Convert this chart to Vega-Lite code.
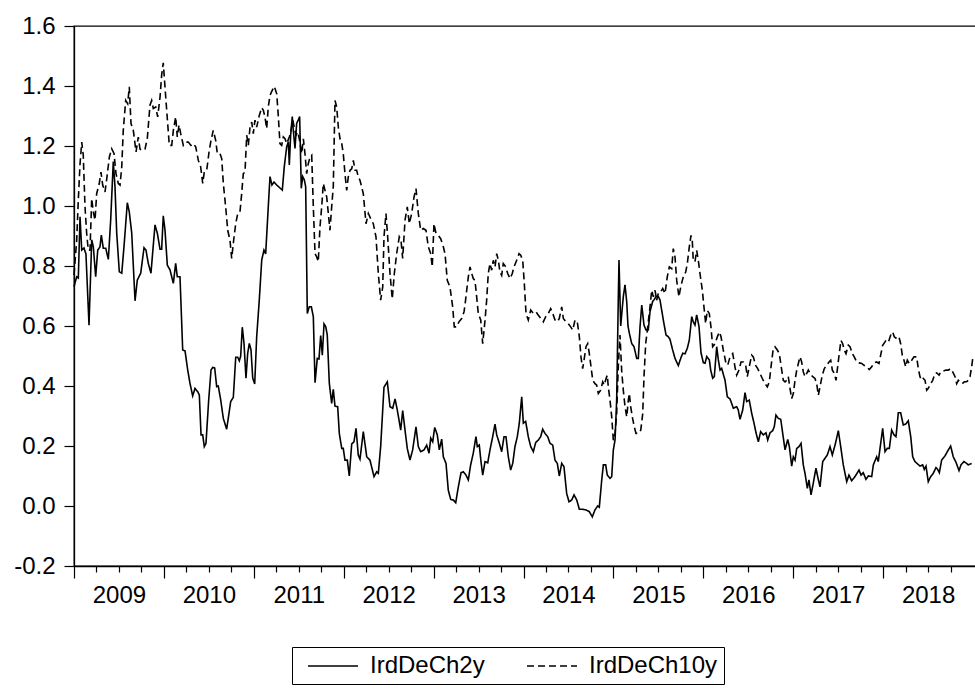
{
  "$schema": "https://vega.github.io/schema/vega-lite/v6.json",
  "width": 902,
  "height": 540,
  "autosize": {"type": "none"},
  "padding": {"left": 74, "top": 26, "right": 0, "bottom": 123},
  "background": "white",
  "config": {
    "view": {"stroke": "black", "strokeWidth": 1.3},
    "font": "Liberation Sans",
    "axis": {"grid": false, "title": null, "labelFont": "Liberation Sans", "labelFontSize": 24, "labelFontWeight": "normal", "labelColor": "black", "tickColor": "black", "domainColor": "black", "tickWidth": 1.2, "domainWidth": 1.3, "labelFlush": false, "labelOverlap": false, "labelBound": false}
  },
  "datasets": {
    "d2": [
{"t":2009.000,"v":0.731},{"t":2009.030,"v":0.764},{"t":2009.048,"v":0.760},{"t":2009.067,"v":0.964},{"t":2009.086,"v":0.853},{"t":2009.111,"v":0.860},{"t":2009.133,"v":0.840},{"t":2009.167,"v":0.603},{"t":2009.197,"v":0.887},{"t":2009.215,"v":0.864},{"t":2009.241,"v":0.764},{"t":2009.264,"v":0.853},{"t":2009.289,"v":0.864},{"t":2009.304,"v":0.903},{"t":2009.326,"v":0.859},{"t":2009.353,"v":0.859},{"t":2009.382,"v":0.822},{"t":2009.408,"v":0.953},{"t":2009.437,"v":1.148},{"t":2009.456,"v":1.064},{"t":2009.475,"v":0.910},{"t":2009.504,"v":0.781},{"t":2009.531,"v":0.776},{"t":2009.556,"v":0.864},{"t":2009.593,"v":1.011},{"t":2009.615,"v":0.980},{"t":2009.642,"v":0.910},{"t":2009.679,"v":0.684},{"t":2009.704,"v":0.753},{"t":2009.742,"v":0.776},{"t":2009.779,"v":0.861},{"t":2009.801,"v":0.853},{"t":2009.826,"v":0.809},{"t":2009.856,"v":0.776},{"t":2009.901,"v":0.937},{"t":2009.927,"v":0.909},{"t":2009.957,"v":0.856},{"t":2009.975,"v":0.856},{"t":2009.993,"v":0.967},
{"t":2010.012,"v":0.920},{"t":2010.038,"v":0.803},{"t":2010.068,"v":0.787},{"t":2010.105,"v":0.742},{"t":2010.131,"v":0.809},{"t":2010.149,"v":0.764},{"t":2010.179,"v":0.764},{"t":2010.209,"v":0.520},{"t":2010.235,"v":0.517},{"t":2010.265,"v":0.453},{"t":2010.290,"v":0.409},{"t":2010.320,"v":0.367},{"t":2010.346,"v":0.392},{"t":2010.376,"v":0.381},{"t":2010.394,"v":0.370},{"t":2010.413,"v":0.237},{"t":2010.432,"v":0.237},{"t":2010.449,"v":0.198},{"t":2010.468,"v":0.209},{"t":2010.498,"v":0.353},{"t":2010.524,"v":0.453},{"t":2010.543,"v":0.462},{"t":2010.565,"v":0.460},{"t":2010.587,"v":0.398},{"t":2010.605,"v":0.400},{"t":2010.632,"v":0.353},{"t":2010.661,"v":0.292},{"t":2010.698,"v":0.256},{"t":2010.724,"v":0.309},{"t":2010.743,"v":0.348},{"t":2010.772,"v":0.362},{"t":2010.799,"v":0.496},{"t":2010.821,"v":0.496},{"t":2010.839,"v":0.484},{"t":2010.854,"v":0.500},{"t":2010.872,"v":0.596},{"t":2010.891,"v":0.542},{"t":2010.913,"v":0.426},{"t":2010.932,"v":0.509},{"t":2010.950,"v":0.542},{"t":2010.969,"v":0.520},{"t":2010.988,"v":0.426},
{"t":2011.010,"v":0.407},{"t":2011.032,"v":0.564},{"t":2011.061,"v":0.687},{"t":2011.088,"v":0.820},{"t":2011.113,"v":0.853},{"t":2011.132,"v":0.840},{"t":2011.161,"v":0.998},{"t":2011.180,"v":1.098},{"t":2011.202,"v":1.070},{"t":2011.225,"v":1.080},{"t":2011.255,"v":1.070},{"t":2011.291,"v":1.060},{"t":2011.317,"v":1.053},{"t":2011.339,"v":1.131},{"t":2011.366,"v":1.198},{"t":2011.384,"v":1.214},{"t":2011.395,"v":1.137},{"t":2011.410,"v":1.237},{"t":2011.428,"v":1.298},{"t":2011.439,"v":1.253},{"t":2011.458,"v":1.192},{"t":2011.477,"v":1.276},{"t":2011.495,"v":1.287},{"t":2011.510,"v":1.298},{"t":2011.528,"v":1.059},{"t":2011.544,"v":1.098},{"t":2011.562,"v":1.087},{"t":2011.577,"v":1.064},{"t":2011.595,"v":0.642},{"t":2011.617,"v":0.664},{"t":2011.640,"v":0.664},{"t":2011.662,"v":0.631},{"t":2011.681,"v":0.411},{"t":2011.706,"v":0.492},{"t":2011.725,"v":0.490},{"t":2011.744,"v":0.568},{"t":2011.762,"v":0.503},{"t":2011.781,"v":0.607},{"t":2011.800,"v":0.598},{"t":2011.817,"v":0.570},{"t":2011.840,"v":0.409},{"t":2011.866,"v":0.342},{"t":2011.884,"v":0.389},{"t":2011.903,"v":0.333},{"t":2011.933,"v":0.331},{"t":2011.951,"v":0.242},{"t":2011.978,"v":0.192},{"t":2011.995,"v":0.192},
{"t":2012.014,"v":0.153},{"t":2012.040,"v":0.153},{"t":2012.062,"v":0.100},{"t":2012.089,"v":0.207},{"t":2012.114,"v":0.214},{"t":2012.137,"v":0.259},{"t":2012.162,"v":0.170},{"t":2012.181,"v":0.156},{"t":2012.218,"v":0.248},{"t":2012.256,"v":0.164},{"t":2012.292,"v":0.153},{"t":2012.337,"v":0.098},{"t":2012.367,"v":0.114},{"t":2012.385,"v":0.109},{"t":2012.411,"v":0.198},{"t":2012.448,"v":0.396},{"t":2012.485,"v":0.414},{"t":2012.515,"v":0.331},{"t":2012.545,"v":0.326},{"t":2012.571,"v":0.357},{"t":2012.596,"v":0.320},{"t":2012.634,"v":0.253},{"t":2012.656,"v":0.318},{"t":2012.682,"v":0.253},{"t":2012.707,"v":0.192},{"t":2012.737,"v":0.153},{"t":2012.767,"v":0.187},{"t":2012.804,"v":0.264},{"t":2012.830,"v":0.198},{"t":2012.856,"v":0.181},{"t":2012.893,"v":0.187},{"t":2012.923,"v":0.203},{"t":2012.949,"v":0.176},{"t":2012.968,"v":0.226},{"t":2012.990,"v":0.214},
{"t":2013.012,"v":0.262},{"t":2013.041,"v":0.237},{"t":2013.063,"v":0.187},{"t":2013.090,"v":0.223},{"t":2013.108,"v":0.164},{"t":2013.138,"v":0.142},{"t":2013.163,"v":0.053},{"t":2013.190,"v":0.022},{"t":2013.219,"v":0.020},{"t":2013.246,"v":0.011},{"t":2013.275,"v":0.064},{"t":2013.305,"v":0.111},{"t":2013.330,"v":0.114},{"t":2013.360,"v":0.103},{"t":2013.386,"v":0.087},{"t":2013.412,"v":0.137},{"t":2013.441,"v":0.176},{"t":2013.471,"v":0.231},{"t":2013.486,"v":0.198},{"t":2013.508,"v":0.203},{"t":2013.527,"v":0.148},{"t":2013.546,"v":0.103},{"t":2013.572,"v":0.148},{"t":2013.602,"v":0.144},{"t":2013.627,"v":0.187},{"t":2013.657,"v":0.231},{"t":2013.683,"v":0.273},{"t":2013.702,"v":0.237},{"t":2013.731,"v":0.209},{"t":2013.757,"v":0.181},{"t":2013.783,"v":0.231},{"t":2013.805,"v":0.231},{"t":2013.831,"v":0.164},{"t":2013.857,"v":0.120},{"t":2013.880,"v":0.142},{"t":2013.905,"v":0.198},{"t":2013.931,"v":0.231},{"t":2013.953,"v":0.276},{"t":2013.980,"v":0.364},{"t":2013.998,"v":0.276},
{"t":2014.024,"v":0.282},{"t":2014.053,"v":0.231},{"t":2014.080,"v":0.198},{"t":2014.109,"v":0.181},{"t":2014.136,"v":0.212},{"t":2014.165,"v":0.220},{"t":2014.191,"v":0.231},{"t":2014.213,"v":0.256},{"t":2014.239,"v":0.242},{"t":2014.269,"v":0.231},{"t":2014.295,"v":0.209},{"t":2014.325,"v":0.203},{"t":2014.350,"v":0.153},{"t":2014.376,"v":0.142},{"t":2014.398,"v":0.100},{"t":2014.425,"v":0.142},{"t":2014.450,"v":0.131},{"t":2014.480,"v":0.042},{"t":2014.506,"v":0.014},{"t":2014.536,"v":0.020},{"t":2014.562,"v":0.037},{"t":2014.592,"v":0.020},{"t":2014.621,"v":-0.011},{"t":2014.658,"v":-0.011},{"t":2014.695,"v":-0.013},{"t":2014.732,"v":-0.019},{"t":2014.765,"v":-0.036},{"t":2014.795,"v":-0.013},{"t":2014.825,"v":0.000},{"t":2014.843,"v":-0.004},{"t":2014.870,"v":0.087},{"t":2014.888,"v":0.137},{"t":2014.914,"v":0.137},{"t":2014.932,"v":0.103},{"t":2014.962,"v":0.092},{"t":2014.981,"v":0.098},{"t":2014.999,"v":0.187},
{"t":2015.018,"v":0.220},{"t":2015.036,"v":0.353},{"t":2015.054,"v":0.687},{"t":2015.062,"v":0.820},{"t":2015.081,"v":0.600},{"t":2015.110,"v":0.698},{"t":2015.129,"v":0.737},{"t":2015.148,"v":0.680},{"t":2015.162,"v":0.600},{"t":2015.177,"v":0.576},{"t":2015.203,"v":0.542},{"t":2015.229,"v":0.531},{"t":2015.259,"v":0.492},{"t":2015.277,"v":0.492},{"t":2015.296,"v":0.598},{"t":2015.315,"v":0.670},{"t":2015.340,"v":0.603},{"t":2015.362,"v":0.587},{"t":2015.388,"v":0.587},{"t":2015.407,"v":0.648},{"t":2015.437,"v":0.682},{"t":2015.451,"v":0.687},{"t":2015.474,"v":0.698},{"t":2015.499,"v":0.698},{"t":2015.518,"v":0.687},{"t":2015.555,"v":0.620},{"t":2015.585,"v":0.570},{"t":2015.611,"v":0.564},{"t":2015.629,"v":0.556},{"t":2015.659,"v":0.520},{"t":2015.685,"v":0.492},{"t":2015.722,"v":0.468},{"t":2015.748,"v":0.492},{"t":2015.771,"v":0.509},{"t":2015.796,"v":0.507},{"t":2015.822,"v":0.526},{"t":2015.844,"v":0.553},{"t":2015.871,"v":0.631},{"t":2015.888,"v":0.614},{"t":2015.907,"v":0.603},{"t":2015.926,"v":0.637},{"t":2015.952,"v":0.598},{"t":2015.974,"v":0.511},
{"t":2016.000,"v":0.478},{"t":2016.019,"v":0.476},{"t":2016.038,"v":0.498},{"t":2016.067,"v":0.487},{"t":2016.082,"v":0.453},{"t":2016.104,"v":0.426},{"t":2016.122,"v":0.431},{"t":2016.149,"v":0.531},{"t":2016.167,"v":0.487},{"t":2016.186,"v":0.453},{"t":2016.204,"v":0.459},{"t":2016.230,"v":0.431},{"t":2016.241,"v":0.420},{"t":2016.267,"v":0.364},{"t":2016.297,"v":0.357},{"t":2016.334,"v":0.326},{"t":2016.371,"v":0.331},{"t":2016.389,"v":0.320},{"t":2016.408,"v":0.289},{"t":2016.438,"v":0.320},{"t":2016.464,"v":0.378},{"t":2016.482,"v":0.348},{"t":2016.511,"v":0.353},{"t":2016.538,"v":0.309},{"t":2016.564,"v":0.276},{"t":2016.586,"v":0.244},{"t":2016.612,"v":0.214},{"t":2016.638,"v":0.248},{"t":2016.667,"v":0.237},{"t":2016.697,"v":0.244},{"t":2016.716,"v":0.220},{"t":2016.742,"v":0.244},{"t":2016.771,"v":0.251},{"t":2016.789,"v":0.264},{"t":2016.808,"v":0.303},{"t":2016.834,"v":0.292},{"t":2016.861,"v":0.289},{"t":2016.883,"v":0.242},{"t":2016.909,"v":0.187},{"t":2016.939,"v":0.222},{"t":2016.957,"v":0.198},{"t":2016.983,"v":0.133},
{"t":2017.001,"v":0.164},{"t":2017.020,"v":0.153},{"t":2017.039,"v":0.192},{"t":2017.064,"v":0.198},{"t":2017.087,"v":0.209},{"t":2017.112,"v":0.137},{"t":2017.131,"v":0.109},{"t":2017.157,"v":0.059},{"t":2017.175,"v":0.087},{"t":2017.198,"v":0.037},{"t":2017.223,"v":0.076},{"t":2017.253,"v":0.126},{"t":2017.272,"v":0.098},{"t":2017.298,"v":0.064},{"t":2017.328,"v":0.148},{"t":2017.353,"v":0.159},{"t":2017.379,"v":0.170},{"t":2017.409,"v":0.198},{"t":2017.435,"v":0.170},{"t":2017.465,"v":0.203},{"t":2017.502,"v":0.251},{"t":2017.528,"v":0.198},{"t":2017.557,"v":0.137},{"t":2017.595,"v":0.081},{"t":2017.620,"v":0.103},{"t":2017.650,"v":0.084},{"t":2017.687,"v":0.098},{"t":2017.732,"v":0.120},{"t":2017.754,"v":0.103},{"t":2017.779,"v":0.111},{"t":2017.809,"v":0.089},{"t":2017.835,"v":0.100},{"t":2017.873,"v":0.098},{"t":2017.891,"v":0.137},{"t":2017.928,"v":0.164},{"t":2017.946,"v":0.148},{"t":2017.973,"v":0.209},{"t":2017.995,"v":0.259},
{"t":2018.021,"v":0.181},{"t":2018.046,"v":0.192},{"t":2018.069,"v":0.192},{"t":2018.095,"v":0.253},{"t":2018.121,"v":0.237},{"t":2018.143,"v":0.231},{"t":2018.169,"v":0.311},{"t":2018.195,"v":0.311},{"t":2018.224,"v":0.270},{"t":2018.251,"v":0.273},{"t":2018.280,"v":0.284},{"t":2018.307,"v":0.231},{"t":2018.329,"v":0.164},{"t":2018.354,"v":0.148},{"t":2018.384,"v":0.140},{"t":2018.410,"v":0.133},{"t":2018.440,"v":0.137},{"t":2018.458,"v":0.122},{"t":2018.477,"v":0.133},{"t":2018.502,"v":0.081},{"t":2018.529,"v":0.098},{"t":2018.558,"v":0.109},{"t":2018.588,"v":0.128},{"t":2018.607,"v":0.122},{"t":2018.625,"v":0.111},{"t":2018.651,"v":0.153},{"t":2018.688,"v":0.167},{"t":2018.714,"v":0.181},{"t":2018.751,"v":0.200},{"t":2018.780,"v":0.164},{"t":2018.810,"v":0.146},{"t":2018.844,"v":0.118},{"t":2018.866,"v":0.137},{"t":2018.899,"v":0.148},{"t":2018.929,"v":0.142},{"t":2018.947,"v":0.137},{"t":2018.985,"v":0.142}
    ],
    "d10": [
{"t":2009.000,"v":0.770},{"t":2009.030,"v":0.886},{"t":2009.048,"v":1.020},{"t":2009.067,"v":1.140},{"t":2009.086,"v":1.213},{"t":2009.103,"v":1.170},{"t":2009.122,"v":1.000},{"t":2009.141,"v":0.908},{"t":2009.159,"v":0.853},{"t":2009.178,"v":0.853},{"t":2009.197,"v":1.025},{"t":2009.215,"v":0.980},{"t":2009.234,"v":0.953},{"t":2009.252,"v":1.041},{"t":2009.281,"v":1.075},{"t":2009.300,"v":1.113},{"t":2009.319,"v":1.070},{"t":2009.345,"v":1.047},{"t":2009.364,"v":1.090},{"t":2009.393,"v":1.163},{"t":2009.419,"v":1.191},{"t":2009.445,"v":1.175},{"t":2009.467,"v":1.108},{"t":2009.493,"v":1.075},{"t":2009.512,"v":1.070},{"t":2009.531,"v":1.130},{"t":2009.548,"v":1.252},{"t":2009.575,"v":1.352},{"t":2009.597,"v":1.341},{"t":2009.615,"v":1.397},{"t":2009.634,"v":1.275},{"t":2009.660,"v":1.252},{"t":2009.690,"v":1.180},{"t":2009.715,"v":1.230},{"t":2009.734,"v":1.190},{"t":2009.760,"v":1.185},{"t":2009.790,"v":1.190},{"t":2009.815,"v":1.224},{"t":2009.845,"v":1.336},{"t":2009.864,"v":1.352},{"t":2009.882,"v":1.325},{"t":2009.909,"v":1.330},{"t":2009.931,"v":1.297},{"t":2009.957,"v":1.363},{"t":2009.975,"v":1.436},{"t":2009.993,"v":1.477},
{"t":2010.012,"v":1.397},{"t":2010.038,"v":1.291},{"t":2010.060,"v":1.202},{"t":2010.087,"v":1.202},{"t":2010.105,"v":1.252},{"t":2010.131,"v":1.297},{"t":2010.149,"v":1.230},{"t":2010.168,"v":1.270},{"t":2010.187,"v":1.241},{"t":2010.216,"v":1.202},{"t":2010.246,"v":1.213},{"t":2010.271,"v":1.213},{"t":2010.301,"v":1.202},{"t":2010.327,"v":1.208},{"t":2010.354,"v":1.197},{"t":2010.383,"v":1.152},{"t":2010.409,"v":1.130},{"t":2010.432,"v":1.075},{"t":2010.449,"v":1.113},{"t":2010.476,"v":1.119},{"t":2010.502,"v":1.180},{"t":2010.524,"v":1.219},{"t":2010.549,"v":1.252},{"t":2010.576,"v":1.219},{"t":2010.594,"v":1.175},{"t":2010.624,"v":1.175},{"t":2010.643,"v":1.158},{"t":2010.661,"v":1.075},{"t":2010.687,"v":0.997},{"t":2010.710,"v":0.919},{"t":2010.735,"v":0.886},{"t":2010.754,"v":0.825},{"t":2010.780,"v":0.897},{"t":2010.799,"v":0.941},{"t":2010.821,"v":0.975},{"t":2010.846,"v":0.980},{"t":2010.865,"v":1.041},{"t":2010.883,"v":1.108},{"t":2010.902,"v":1.113},{"t":2010.921,"v":1.236},{"t":2010.939,"v":1.202},{"t":2010.958,"v":1.263},{"t":2010.977,"v":1.280},{"t":2010.994,"v":1.241},
{"t":2011.013,"v":1.286},{"t":2011.032,"v":1.263},{"t":2011.061,"v":1.302},{"t":2011.088,"v":1.328},{"t":2011.106,"v":1.319},{"t":2011.124,"v":1.297},{"t":2011.143,"v":1.258},{"t":2011.161,"v":1.330},{"t":2011.180,"v":1.369},{"t":2011.206,"v":1.386},{"t":2011.228,"v":1.399},{"t":2011.255,"v":1.374},{"t":2011.272,"v":1.302},{"t":2011.291,"v":1.208},{"t":2011.310,"v":1.202},{"t":2011.328,"v":1.230},{"t":2011.347,"v":1.224},{"t":2011.366,"v":1.208},{"t":2011.395,"v":1.230},{"t":2011.414,"v":1.252},{"t":2011.433,"v":1.286},{"t":2011.450,"v":1.263},{"t":2011.469,"v":1.236},{"t":2011.488,"v":1.247},{"t":2011.506,"v":1.224},{"t":2011.533,"v":1.175},{"t":2011.551,"v":1.224},{"t":2011.569,"v":1.175},{"t":2011.588,"v":1.108},{"t":2011.606,"v":1.141},{"t":2011.625,"v":1.163},{"t":2011.644,"v":1.169},{"t":2011.662,"v":0.997},{"t":2011.681,"v":0.841},{"t":2011.700,"v":0.830},{"t":2011.717,"v":0.814},{"t":2011.736,"v":0.930},{"t":2011.755,"v":0.997},{"t":2011.773,"v":1.075},{"t":2011.792,"v":1.052},{"t":2011.811,"v":1.030},{"t":2011.829,"v":0.975},{"t":2011.847,"v":0.919},{"t":2011.866,"v":0.997},{"t":2011.884,"v":1.064},{"t":2011.903,"v":1.352},{"t":2011.922,"v":1.330},{"t":2011.940,"v":1.263},{"t":2011.959,"v":1.224},{"t":2011.978,"v":1.208},{"t":2011.995,"v":1.175},
{"t":2012.014,"v":1.108},{"t":2012.033,"v":1.052},{"t":2012.051,"v":1.097},{"t":2012.070,"v":1.119},{"t":2012.089,"v":1.124},{"t":2012.107,"v":1.152},{"t":2012.126,"v":1.119},{"t":2012.144,"v":1.119},{"t":2012.162,"v":1.097},{"t":2012.181,"v":1.086},{"t":2012.218,"v":1.041},{"t":2012.248,"v":0.941},{"t":2012.274,"v":0.975},{"t":2012.300,"v":0.958},{"t":2012.329,"v":0.941},{"t":2012.359,"v":0.897},{"t":2012.385,"v":0.775},{"t":2012.411,"v":0.686},{"t":2012.434,"v":0.730},{"t":2012.448,"v":0.897},{"t":2012.470,"v":0.975},{"t":2012.489,"v":0.897},{"t":2012.515,"v":0.775},{"t":2012.540,"v":0.690},{"t":2012.563,"v":0.775},{"t":2012.589,"v":0.841},{"t":2012.618,"v":0.897},{"t":2012.637,"v":0.886},{"t":2012.656,"v":0.825},{"t":2012.682,"v":0.953},{"t":2012.707,"v":0.997},{"t":2012.730,"v":0.941},{"t":2012.756,"v":0.975},{"t":2012.782,"v":1.030},{"t":2012.804,"v":1.058},{"t":2012.830,"v":0.975},{"t":2012.856,"v":0.919},{"t":2012.885,"v":0.925},{"t":2012.915,"v":0.919},{"t":2012.941,"v":0.864},{"t":2012.968,"v":0.841},{"t":2012.985,"v":0.797},
{"t":2013.004,"v":0.941},{"t":2013.027,"v":0.908},{"t":2013.052,"v":0.902},{"t":2013.079,"v":0.891},{"t":2013.108,"v":0.864},{"t":2013.127,"v":0.841},{"t":2013.152,"v":0.752},{"t":2013.182,"v":0.730},{"t":2013.212,"v":0.664},{"t":2013.230,"v":0.597},{"t":2013.257,"v":0.597},{"t":2013.282,"v":0.614},{"t":2013.312,"v":0.625},{"t":2013.338,"v":0.647},{"t":2013.349,"v":0.670},{"t":2013.368,"v":0.719},{"t":2013.386,"v":0.764},{"t":2013.405,"v":0.797},{"t":2013.424,"v":0.775},{"t":2013.441,"v":0.758},{"t":2013.460,"v":0.752},{"t":2013.479,"v":0.697},{"t":2013.497,"v":0.641},{"t":2013.524,"v":0.620},{"t":2013.546,"v":0.541},{"t":2013.572,"v":0.620},{"t":2013.590,"v":0.686},{"t":2013.608,"v":0.775},{"t":2013.627,"v":0.808},{"t":2013.646,"v":0.786},{"t":2013.664,"v":0.819},{"t":2013.683,"v":0.797},{"t":2013.702,"v":0.841},{"t":2013.720,"v":0.819},{"t":2013.738,"v":0.780},{"t":2013.757,"v":0.769},{"t":2013.775,"v":0.808},{"t":2013.802,"v":0.797},{"t":2013.824,"v":0.775},{"t":2013.850,"v":0.758},{"t":2013.875,"v":0.775},{"t":2013.894,"v":0.797},{"t":2013.924,"v":0.819},{"t":2013.950,"v":0.841},{"t":2013.969,"v":0.836},{"t":2013.991,"v":0.819},
{"t":2014.009,"v":0.741},{"t":2014.028,"v":0.641},{"t":2014.053,"v":0.620},{"t":2014.080,"v":0.653},{"t":2014.109,"v":0.642},{"t":2014.139,"v":0.647},{"t":2014.165,"v":0.636},{"t":2014.194,"v":0.625},{"t":2014.220,"v":0.614},{"t":2014.247,"v":0.631},{"t":2014.276,"v":0.642},{"t":2014.302,"v":0.658},{"t":2014.325,"v":0.642},{"t":2014.350,"v":0.620},{"t":2014.376,"v":0.614},{"t":2014.398,"v":0.625},{"t":2014.425,"v":0.664},{"t":2014.443,"v":0.625},{"t":2014.472,"v":0.614},{"t":2014.498,"v":0.608},{"t":2014.525,"v":0.597},{"t":2014.547,"v":0.586},{"t":2014.573,"v":0.620},{"t":2014.598,"v":0.614},{"t":2014.621,"v":0.564},{"t":2014.639,"v":0.497},{"t":2014.658,"v":0.458},{"t":2014.676,"v":0.492},{"t":2014.695,"v":0.531},{"t":2014.714,"v":0.541},{"t":2014.732,"v":0.508},{"t":2014.751,"v":0.464},{"t":2014.770,"v":0.419},{"t":2014.795,"v":0.408},{"t":2014.814,"v":0.403},{"t":2014.832,"v":0.375},{"t":2014.858,"v":0.386},{"t":2014.881,"v":0.414},{"t":2014.898,"v":0.403},{"t":2014.918,"v":0.425},{"t":2014.932,"v":0.436},{"t":2014.943,"v":0.397},{"t":2014.962,"v":0.353},{"t":2014.981,"v":0.297},{"t":2014.999,"v":0.219},
{"t":2015.018,"v":0.242},{"t":2015.036,"v":0.308},{"t":2015.054,"v":0.464},{"t":2015.073,"v":0.570},{"t":2015.092,"v":0.450},{"t":2015.110,"v":0.386},{"t":2015.129,"v":0.331},{"t":2015.148,"v":0.297},{"t":2015.166,"v":0.353},{"t":2015.177,"v":0.375},{"t":2015.192,"v":0.331},{"t":2015.214,"v":0.291},{"t":2015.232,"v":0.264},{"t":2015.251,"v":0.242},{"t":2015.277,"v":0.242},{"t":2015.304,"v":0.253},{"t":2015.326,"v":0.308},{"t":2015.340,"v":0.431},{"t":2015.359,"v":0.541},{"t":2015.377,"v":0.586},{"t":2015.399,"v":0.642},{"t":2015.426,"v":0.719},{"t":2015.444,"v":0.697},{"t":2015.463,"v":0.719},{"t":2015.481,"v":0.686},{"t":2015.499,"v":0.708},{"t":2015.518,"v":0.710},{"t":2015.548,"v":0.725},{"t":2015.574,"v":0.708},{"t":2015.599,"v":0.764},{"t":2015.622,"v":0.797},{"t":2015.648,"v":0.791},{"t":2015.666,"v":0.858},{"t":2015.685,"v":0.830},{"t":2015.704,"v":0.752},{"t":2015.729,"v":0.697},{"t":2015.748,"v":0.730},{"t":2015.777,"v":0.764},{"t":2015.804,"v":0.780},{"t":2015.822,"v":0.808},{"t":2015.844,"v":0.864},{"t":2015.863,"v":0.902},{"t":2015.877,"v":0.886},{"t":2015.888,"v":0.819},{"t":2015.907,"v":0.814},{"t":2015.926,"v":0.852},{"t":2015.944,"v":0.819},{"t":2015.963,"v":0.775},{"t":2015.989,"v":0.719},
{"t":2016.007,"v":0.664},{"t":2016.026,"v":0.608},{"t":2016.044,"v":0.652},{"t":2016.067,"v":0.641},{"t":2016.085,"v":0.597},{"t":2016.104,"v":0.531},{"t":2016.130,"v":0.541},{"t":2016.156,"v":0.564},{"t":2016.178,"v":0.580},{"t":2016.197,"v":0.564},{"t":2016.222,"v":0.520},{"t":2016.249,"v":0.480},{"t":2016.271,"v":0.469},{"t":2016.297,"v":0.497},{"t":2016.327,"v":0.508},{"t":2016.352,"v":0.464},{"t":2016.371,"v":0.436},{"t":2016.397,"v":0.453},{"t":2016.419,"v":0.480},{"t":2016.445,"v":0.480},{"t":2016.471,"v":0.469},{"t":2016.489,"v":0.431},{"t":2016.511,"v":0.464},{"t":2016.538,"v":0.503},{"t":2016.556,"v":0.497},{"t":2016.582,"v":0.469},{"t":2016.605,"v":0.458},{"t":2016.630,"v":0.442},{"t":2016.656,"v":0.425},{"t":2016.686,"v":0.408},{"t":2016.712,"v":0.397},{"t":2016.734,"v":0.414},{"t":2016.753,"v":0.464},{"t":2016.778,"v":0.525},{"t":2016.797,"v":0.531},{"t":2016.823,"v":0.520},{"t":2016.845,"v":0.508},{"t":2016.872,"v":0.453},{"t":2016.890,"v":0.419},{"t":2016.909,"v":0.414},{"t":2016.927,"v":0.419},{"t":2016.945,"v":0.431},{"t":2016.964,"v":0.392},{"t":2016.983,"v":0.358},
{"t":2017.001,"v":0.375},{"t":2017.020,"v":0.419},{"t":2017.039,"v":0.453},{"t":2017.057,"v":0.475},{"t":2017.075,"v":0.497},{"t":2017.094,"v":0.480},{"t":2017.112,"v":0.447},{"t":2017.131,"v":0.431},{"t":2017.150,"v":0.442},{"t":2017.168,"v":0.453},{"t":2017.187,"v":0.442},{"t":2017.217,"v":0.431},{"t":2017.242,"v":0.425},{"t":2017.261,"v":0.408},{"t":2017.279,"v":0.369},{"t":2017.298,"v":0.397},{"t":2017.323,"v":0.436},{"t":2017.346,"v":0.458},{"t":2017.372,"v":0.469},{"t":2017.398,"v":0.480},{"t":2017.417,"v":0.486},{"t":2017.435,"v":0.453},{"t":2017.457,"v":0.442},{"t":2017.476,"v":0.419},{"t":2017.494,"v":0.464},{"t":2017.512,"v":0.508},{"t":2017.531,"v":0.552},{"t":2017.550,"v":0.541},{"t":2017.568,"v":0.520},{"t":2017.587,"v":0.508},{"t":2017.613,"v":0.536},{"t":2017.632,"v":0.531},{"t":2017.657,"v":0.508},{"t":2017.679,"v":0.497},{"t":2017.706,"v":0.480},{"t":2017.732,"v":0.477},{"t":2017.762,"v":0.475},{"t":2017.787,"v":0.469},{"t":2017.817,"v":0.464},{"t":2017.846,"v":0.455},{"t":2017.873,"v":0.464},{"t":2017.898,"v":0.477},{"t":2017.928,"v":0.480},{"t":2017.954,"v":0.475},{"t":2017.976,"v":0.508},{"t":2017.995,"v":0.536},
{"t":2018.021,"v":0.547},{"t":2018.040,"v":0.558},{"t":2018.065,"v":0.552},{"t":2018.087,"v":0.572},{"t":2018.106,"v":0.580},{"t":2018.124,"v":0.564},{"t":2018.151,"v":0.558},{"t":2018.176,"v":0.564},{"t":2018.195,"v":0.541},{"t":2018.213,"v":0.503},{"t":2018.232,"v":0.486},{"t":2018.251,"v":0.464},{"t":2018.269,"v":0.486},{"t":2018.291,"v":0.475},{"t":2018.318,"v":0.486},{"t":2018.343,"v":0.497},{"t":2018.373,"v":0.497},{"t":2018.391,"v":0.458},{"t":2018.410,"v":0.431},{"t":2018.429,"v":0.419},{"t":2018.447,"v":0.425},{"t":2018.466,"v":0.419},{"t":2018.485,"v":0.386},{"t":2018.502,"v":0.392},{"t":2018.529,"v":0.408},{"t":2018.551,"v":0.419},{"t":2018.577,"v":0.442},{"t":2018.596,"v":0.444},{"t":2018.622,"v":0.436},{"t":2018.640,"v":0.447},{"t":2018.669,"v":0.450},{"t":2018.699,"v":0.453},{"t":2018.725,"v":0.453},{"t":2018.751,"v":0.458},{"t":2018.774,"v":0.447},{"t":2018.800,"v":0.431},{"t":2018.818,"v":0.408},{"t":2018.836,"v":0.419},{"t":2018.855,"v":0.414},{"t":2018.881,"v":0.408},{"t":2018.903,"v":0.414},{"t":2018.929,"v":0.414},{"t":2018.947,"v":0.419},{"t":2018.966,"v":0.431},{"t":2018.985,"v":0.464},{"t":2018.996,"v":0.491}
    ]
  },
  "layer": [
    {
      "data": {"name": "d2"},
      "mark": {"type": "line", "color": "black", "strokeWidth": 1.6},
      "encoding": {
        "x": {"field": "t", "type": "quantitative", "scale": {"domain": [2009, 2019.033], "nice": false, "zero": false},
              "axis": {"orient": "bottom", "values": [2009.25,2009.5,2009.75,2010.25,2010.5,2010.75,2011.25,2011.5,2011.75,2012.25,2012.5,2012.75,2013.25,2013.5,2013.75,2014.25,2014.5,2014.75,2015.25,2015.5,2015.75,2016.25,2016.5,2016.75,2017.25,2017.5,2017.75,2018.25,2018.5,2018.75],
                       "tickSize": 6, "labelPadding": 11, "labelExpr": "(datum.value - 0.5) % 1 === 0 ? '' + floor(datum.value) : ''"}},
        "y": {"field": "v", "type": "quantitative", "scale": {"domain": [-0.2, 1.6], "nice": false, "zero": false},
              "axis": {"values": [-0.2,0,0.2,0.4,0.6,0.8,1.0,1.2,1.4,1.6], "tickSize": 10, "labelPadding": 9, "labelExpr": "datum.value < -0.01 ? '-' + format(-datum.value, '.1f') : format(abs(datum.value), '.1f')"}},
        "strokeDash": {"datum": "IrdDeCh2y", "type": "nominal",
              "scale": {"domain": ["IrdDeCh2y", "IrdDeCh10y"], "range": [[1, 0], [7, 4]]},
              "legend": {"title": null, "orient": "none", "legendX": 218, "legendY": 621, "direction": "horizontal",
                         "strokeColor": "black", "padding": 6, "symbolType": "M-0.25,0H3.92", "symbolSize": 576,
                         "symbolStrokeWidth": 1.6, "symbolStrokeColor": "black", "symbolFillColor": "transparent",
                         "labelFont": "Liberation Sans", "labelFontSize": 24, "labelFontWeight": "normal",
                         "labelColor": "black", "labelOffset": 46, "columnPadding": 32, "labelLimit": 400, "fillColor": "white"}}
      }
    },
    {
      "data": {"name": "d10"},
      "mark": {"type": "line", "color": "black", "strokeWidth": 1.6},
      "encoding": {
        "x": {"field": "t", "type": "quantitative",
              "axis": {"orient": "bottom", "values": [2009,2010,2011,2012,2013,2014,2015,2016,2017,2018], "tickSize": 12, "labels": false, "domain": false}},
        "y": {"field": "v", "type": "quantitative"},
        "strokeDash": {"datum": "IrdDeCh10y", "type": "nominal"}
      }
    }
  ],
  "resolve": {"axis": {"x": "independent"}}
}
